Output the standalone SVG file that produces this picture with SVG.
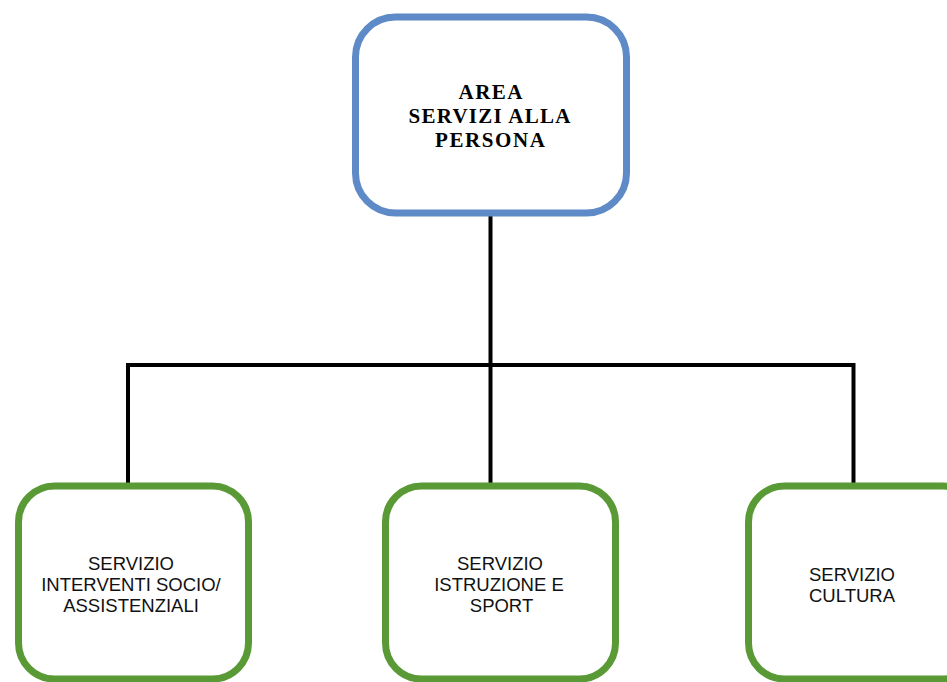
<svg xmlns="http://www.w3.org/2000/svg" width="947" height="682" viewBox="0 0 947 682">
<style>
.top{fill:#fff;stroke:#5E8AC7;stroke-width:7}
.sub{fill:#fff;stroke:#5A9A36;stroke-width:7}
.ttl{font-family:"Liberation Serif",serif;font-weight:bold;font-size:21px;fill:#000;text-anchor:middle}
.lbl{font-family:"Liberation Sans",Arial,sans-serif;font-size:18.5px;fill:#111;text-anchor:middle}
.ln{stroke:#000;stroke-width:4;fill:none}
</style>
<rect width="947" height="682" fill="#fff"/>
<g id="connectors">
<path class="ln" d="M490.5 213 V365"/>
<path class="ln" d="M126 365 H855"/>
<path class="ln" d="M128 363 V486"/>
<path class="ln" d="M490.5 365 V486"/>
<path class="ln" d="M853.5 363 V486"/>
</g>
<g id="area">
<rect class="top" x="355.5" y="17" width="271" height="196" rx="40"/>
<text class="ttl" x="490.5" y="99" textLength="64" lengthAdjust="spacing">AREA</text>
<text class="ttl" x="489.5" y="123" textLength="162" lengthAdjust="spacing">SERVIZI ALLA</text>
<text class="ttl" x="490" y="147" textLength="110" lengthAdjust="spacing">PERSONA</text>
</g>
<g id="socio">
<rect class="sub" x="18.5" y="486" width="230" height="193" rx="36"/>
<text class="lbl" x="131" y="570">SERVIZIO</text>
<text class="lbl" x="131" y="591">INTERVENTI SOCIO/</text>
<text class="lbl" x="131" y="612">ASSISTENZIALI</text>
</g>
<g id="istruzione">
<rect class="sub" x="385.5" y="486" width="230" height="193" rx="36"/>
<text class="lbl" x="500" y="570">SERVIZIO</text>
<text class="lbl" x="499" y="591">ISTRUZIONE E</text>
<text class="lbl" x="501.5" y="612">SPORT</text>
</g>
<g id="cultura">
<rect class="sub" x="748.5" y="486" width="230" height="193" rx="36"/>
<text class="lbl" x="852" y="581">SERVIZIO</text>
<text class="lbl" x="852" y="602">CULTURA</text>
</g>
</svg>
